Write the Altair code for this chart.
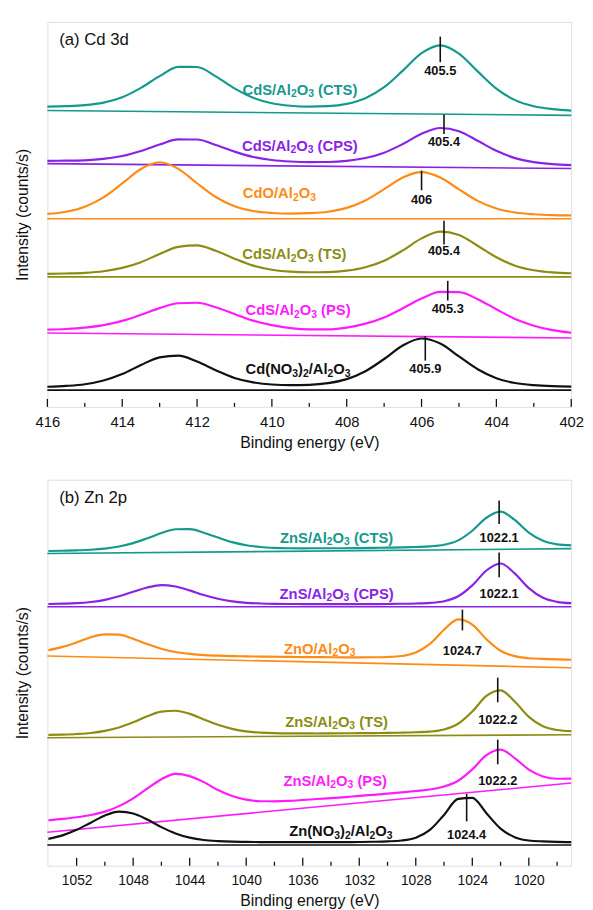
import altair as alt
import pandas as pd

FONT = "Liberation Sans, Arial, Helvetica, DejaVu Sans, sans-serif"

SERIES = ["CTS", "CPS", "OX", "TS", "PS", "NO3"]
COLORS = ["#14998d", "#8a22e6", "#ff8a14", "#8c8c12", "#ff1aff", "#111111"]

# ---------------- panel (a) Cd 3d ----------------
E_A = [416.0, 415.5, 415.0, 414.5, 414.0, 413.5, 413.0, 412.5, 412.0, 411.5,
       411.0, 410.5, 410.0, 409.5, 409.0, 408.5, 408.0, 407.5, 407.0, 406.5,
       406.0, 405.5, 405.0, 404.5, 404.0, 403.5, 403.0, 402.5, 402.0]
A_CTS = [305.0, 305.4, 306.4, 309.0, 314.5, 324.0, 335.9, 345.3, 345.2, 335.7, 323.5, 313.9, 308.3, 305.8, 304.9,
         305.4, 307.7, 313.5, 324.6, 341.5, 359.2, 367.2, 358.8, 340.7, 323.2, 311.5, 305.3, 302.4, 300.9]
A_CPS = [249.9, 250.0, 250.4, 251.8, 254.8, 259.9, 266.4, 271.6, 271.5, 266.0, 259.2, 253.8, 250.7, 249.2, 248.6,
         248.7, 249.8, 252.7, 258.1, 266.9, 277.3, 283.2, 280.0, 270.2, 260.0, 252.6, 248.6, 246.5, 245.5]
A_OX = [196.0, 198.2, 203.3, 212.8, 226.9, 241.6, 248.4, 241.7, 227.1, 213.1, 203.7, 198.9, 196.9, 196.2, 196.7,
        198.2, 202.1, 209.6, 221.1, 233.0, 238.4, 232.9, 220.9, 209.2, 201.5, 197.4, 195.6, 194.7, 194.4]
A_TS = [135.0, 135.4, 136.1, 137.7, 141.1, 146.9, 155.3, 162.5, 164.0, 158.5, 150.5, 143.4, 139.3, 137.3, 136.7,
        136.9, 138.3, 141.8, 148.4, 158.9, 171.1, 178.0, 174.6, 163.6, 151.9, 143.4, 138.8, 136.6, 135.7]
A_PS = [78.5, 79.1, 80.4, 83.0, 87.3, 93.5, 100.3, 105.2, 105.7, 101.1, 94.3, 87.6, 83.0, 79.9, 78.7,
        78.7, 80.5, 84.5, 90.8, 100.2, 110.0, 116.8, 116.5, 109.4, 99.1, 89.2, 82.4, 77.9, 75.3]
A_NO3 = [20.4, 21.3, 23.0, 26.8, 33.3, 42.5, 50.3, 52.1, 46.0, 37.2, 29.4, 24.9, 22.7, 22.1, 22.4,
         24.1, 28.2, 36.2, 48.6, 62.3, 69.4, 64.3, 51.2, 38.2, 29.1, 24.2, 22.0, 21.0, 20.6]
BASE_A_E = [416.0, 402.0]
BASE_A = {"CTS": [301, 296], "CPS": [247, 242], "OX": [191, 191],
          "TS": [132, 132], "PS": [75, 70], "NO3": [17, 17]}
# "_x" marks a subscript character
LBL_A_TEXT = ["CdS/Al_2O_3 (CTS)", "CdS/Al_2O_3 (CPS)", "CdO/Al_2O_3",
              "CdS/Al_2O_3 (TS)", "CdS/Al_2O_3 (PS)", "Cd(NO_3)_2/Al_2O_3"]
LBL_A_E = [409.25, 409.25, 409.8, 409.4, 409.3, 409.3]
LBL_A_I = [322, 265, 217, 155, 98, 38]
MK_A_E = [405.5, 405.4, 406.0, 405.4, 405.3, 405.9]
MK_A_TOP = [376, 297, 240, 189, 128, 72]
MK_A_BOT = [350, 277, 220, 165, 108, 47]
VAL_A_TEXT = ["405.5", "405.4", "406", "405.4", "405.3", "405.9"]
VAL_A_I = [341, 269, 210, 158, 99, 38]
MAJOR_A = [416, 414, 412, 410, 408, 406, 404, 402]
MINOR_A = [415, 413, 411, 409, 407, 405, 403]

# ---------------- panel (b) Zn 2p ----------------
E_B = [1054, 1053, 1052, 1051, 1050, 1049, 1048, 1047, 1046, 1045, 1044, 1043, 1042,
       1041, 1040, 1039, 1038, 1037, 1036, 1035, 1034, 1033, 1032, 1031, 1030, 1029,
       1028, 1027, 1026, 1025, 1024, 1023, 1022, 1021, 1020, 1019, 1018, 1017]
B_CTS = [319.6, 319.9, 320.3, 320.9, 322.1, 324.2, 327.6, 332.5, 337.8, 341.7, 341.8, 338.2, 333.3,
         328.6, 325.5, 323.7, 322.8, 322.4, 322.3, 322.4, 322.4, 322.4, 322.6, 322.8, 323.0, 323.3,
         323.7, 324.3, 325.9, 330.4, 340.2, 353.4, 359.6, 351.2, 338.3, 329.9, 326.4, 325.4]
B_CPS = [265.8, 266.1, 266.6, 267.8, 270.0, 273.6, 278.2, 282.6, 285.0, 283.5, 279.6, 274.9, 271.1,
         268.4, 267.0, 266.3, 265.9, 265.8, 265.7, 265.6, 265.6, 265.6, 265.6, 265.7, 265.8, 266.0,
         266.3, 266.9, 268.6, 273.6, 284.7, 299.8, 306.9, 296.9, 281.9, 272.1, 268.0, 266.6]
B_OX = [218.8, 222.2, 226.8, 232.0, 235.0, 234.6, 230.4, 225.1, 220.4, 217.0, 215.1, 213.8, 213.3,
        212.9, 212.6, 212.4, 212.2, 212.1, 211.9, 211.8, 211.7, 211.6, 211.6, 211.7, 212.0, 213.0,
        216.6, 225.3, 239.6, 250.1, 244.9, 230.0, 218.3, 212.8, 210.7, 210.0, 209.5, 209.2]
B_TS = [132.8, 133.2, 133.8, 134.8, 136.9, 140.4, 145.6, 151.7, 156.5, 157.4, 154.2, 148.5, 143.1,
        139.0, 136.4, 135.2, 134.6, 134.4, 134.4, 134.3, 134.4, 134.5, 134.6, 134.7, 134.9, 135.1,
        135.5, 136.2, 138.4, 144.2, 156.6, 172.5, 178.0, 166.7, 151.2, 141.6, 137.8, 136.6]
B_PS = [46.1, 47.5, 49.2, 51.5, 54.9, 60.5, 68.4, 78.3, 87.8, 93.2, 91.0, 84.9, 76.8,
        70.8, 67.1, 65.5, 65.4, 65.8, 66.7, 67.7, 68.6, 69.7, 70.9, 72.0, 73.2, 74.5,
        75.9, 77.4, 80.4, 86.3, 97.8, 112.3, 117.9, 109.3, 97.5, 90.6, 88.3, 88.5]
B_NO3 = [27.3, 30.8, 36.4, 43.7, 51.0, 54.9, 53.0, 46.9, 39.2, 32.8, 28.5, 26.1, 25.0,
         24.4, 24.2, 24.0, 23.9, 23.9, 23.9, 23.9, 23.9, 24.0, 24.1, 24.3, 24.7, 25.6,
         28.5, 36.4, 51.6, 67.8, 68.9, 53.3, 37.7, 29.0, 25.6, 24.7, 24.2, 24.0]
BASE_B_E = [1054.07, 1017.0]
BASE_B = {"CTS": [317, 322], "CPS": [263, 263], "OX": [213, 201],
          "TS": [130, 133], "PS": [34, 84], "NO3": [21, 21]}
LBL_B_TEXT = ["ZnS/Al_2O_3 (CTS)", "ZnS/Al_2O_3 (CPS)", "ZnO/Al_2O_3",
              "ZnS/Al_2O_3 (TS)", "ZnS/Al_2O_3 (PS)", "Zn(NO_3)_2/Al_2O_3"]
LBL_B_E = [1033.6, 1033.6, 1034.8, 1033.6, 1033.7, 1033.3]
LBL_B_I = [333, 276, 220, 146, 86, 35]
MK_B_E = [1022.1, 1022.1, 1024.7, 1022.2, 1022.2, 1024.4]
MK_B_TOP = [371, 318, 260, 191, 128, 73]
MK_B_BOT = [347, 293, 239, 166, 103, 45]
VAL_B_TEXT = ["1022.1", "1022.1", "1024.7", "1022.2", "1022.2", "1024.4"]
VAL_B_I = [333, 276, 218, 148, 86, 31]
MAJOR_B = [1052, 1048, 1044, 1040, 1036, 1032, 1028, 1024, 1020]
MINOR_B = [1050, 1046, 1042, 1038, 1034, 1030, 1026, 1022, 1018]

W = 532
FS_MAIN = 15.0
FS_SUB = 10.5
SUB_DROP = 4.5

# Arial/Liberation Sans Bold advance widths (1/1000 em)
ADV = {" ": 278, "(": 333, ")": 333, "/": 278, "A": 722, "C": 722, "O": 778,
       "S": 667, "T": 611, "P": 667, "N": 722, "Z": 611, "d": 611, "l": 278, "n": 611}


def adv(ch):
    return ADV.get(ch, 556)


def split_markup(m):
    out, buf, i = [], "", 0
    while i < len(m):
        if m[i] == "_":
            if buf:
                out.append((buf, False))
                buf = ""
            out.append((m[i + 1], True))
            i += 2
        else:
            buf += m[i]
            i += 1
    if buf:
        out.append((buf, False))
    return out


def label_rows(texts, es, is_, dom):
    ppu = W / (dom[1] - dom[0])
    rows = []
    for k, (m, e, iv) in enumerate(zip(texts, es, is_)):
        segs = split_markup(m)
        widths = [sum(adv(c) for c in t) * (FS_SUB if sub else FS_MAIN) / 1000 for t, sub in segs]
        start = -sum(widths) / 2
        for (t, sub), w in zip(segs, widths):
            fs = FS_SUB if sub else FS_MAIN
            stripped = t.lstrip(" ")
            lead = (len(t) - len(stripped)) * adv(" ") * fs / 1000
            rows.append({"E": e - (start + lead) / ppu, "I": iv - (SUB_DROP if sub else 0),
                         "t": stripped, "sub": sub, "s": SERIES[k]})
            start += w
    return pd.DataFrame(rows)


def panel(E, curves, base_e, bases, lbl_text, lbl_e, lbl_i, mk_e, mk_top, mk_bot,
          val_text, val_i, major, minor, dom, h, title, tick_fs):
    rows = []
    for s, ys in zip(SERIES, curves):
        for e, v in zip(E, ys):
            rows.append({"E": e, "I": v, "s": s})
    df_curve = pd.DataFrame(rows)
    brows = []
    for s in SERIES:
        for e, v in zip(base_e, bases[s]):
            brows.append({"E": e, "I": v, "s": s})
    df_base = pd.DataFrame(brows)
    df_lbl = label_rows(lbl_text, lbl_e, lbl_i, dom)
    df_mk = pd.DataFrame({"E": mk_e, "I": mk_top, "I2": mk_bot})
    df_val = pd.DataFrame({"E": mk_e, "I": val_i, "t": val_text})
    df_major = pd.DataFrame({"E": major})
    df_minor = pd.DataFrame({"E": minor})

    xs = alt.Scale(domain=dom, reverse=True, nice=False, zero=False)
    ys = alt.Scale(domain=[0, h], nice=False, zero=False)
    xaxis = alt.Axis(values=major, format="d", ticks=False, domain=False, grid=False,
                     labelFontSize=tick_fs, labelFont=FONT, labelColor="#111",
                     labelPadding=8, labelFlush=False, labelOverlap=False,
                     title="Binding energy (eV)", titleFont=FONT, titleFontSize=16,
                     titleFontWeight="normal", titleColor="#111", titlePadding=5)
    yaxis = alt.Axis(labels=False, ticks=False, domain=False, grid=False,
                     title="Intensity (counts/s)", titleFont=FONT, titleFontSize=16,
                     titleFontWeight="normal", titleColor="#111", titlePadding=17)
    X = alt.X("E:Q", scale=xs, axis=xaxis)
    Y = alt.Y("I:Q", scale=ys, axis=yaxis)
    col = alt.Color("s:N", scale=alt.Scale(domain=SERIES, range=COLORS), legend=None)

    base = alt.Chart(df_base).mark_line(strokeWidth=1.6).encode(x=X, y=Y, color=col, detail="s:N")
    curve = alt.Chart(df_curve).mark_line(strokeWidth=2.2, interpolate="monotone").encode(
        x=X, y=Y, color=col, detail="s:N")
    lbl_main = alt.Chart(df_lbl[~df_lbl["sub"]]).mark_text(
        font=FONT, fontSize=FS_MAIN, fontWeight="bold", align="left", baseline="middle").encode(
        x=X, y=Y, text="t:N", color=col)
    lbl_sub = alt.Chart(df_lbl[df_lbl["sub"]]).mark_text(
        font=FONT, fontSize=FS_SUB, fontWeight="bold", align="left", baseline="middle").encode(
        x=X, y=Y, text="t:N", color=col)
    mk = alt.Chart(df_mk).mark_rule(color="#111", strokeWidth=1.6).encode(
        x=X, y=Y, y2=alt.Y2("I2:Q"))
    val = alt.Chart(df_val).mark_text(font=FONT, fontSize=13, fontWeight="bold", color="#111",
                                      align="center", baseline="middle").encode(
        x=X, y=Y, text="t:N")
    tmaj = alt.Chart(df_major).mark_rule(color="#111", strokeWidth=1.3).encode(
        x=X, y=alt.value(h), y2=alt.value(h - 8))
    tmin = alt.Chart(df_minor).mark_rule(color="#111", strokeWidth=1.3).encode(
        x=X, y=alt.value(h), y2=alt.value(h - 4))
    ttl = alt.Chart(pd.DataFrame({"t": [title]})).mark_text(
        font=FONT, fontSize=17, align="left", baseline="middle", color="#111").encode(
        x=alt.value(12), y=alt.value(19), text="t:N")
    return alt.layer(base, curve, mk, val, lbl_main, lbl_sub, tmaj, tmin, ttl).properties(
        width=W, height=h)


pa = panel(E_A, [A_CTS, A_CPS, A_OX, A_TS, A_PS, A_NO3], BASE_A_E, BASE_A,
           LBL_A_TEXT, LBL_A_E, LBL_A_I, MK_A_E, MK_A_TOP, MK_A_BOT, VAL_A_TEXT, VAL_A_I,
           MAJOR_A, MINOR_A, [402, 416], 391, "(a) Cd 3d", 15)
pb = panel(E_B, [B_CTS, B_CPS, B_OX, B_TS, B_PS, B_NO3], BASE_B_E, BASE_B,
           LBL_B_TEXT, LBL_B_E, LBL_B_I, MK_B_E, MK_B_TOP, MK_B_BOT, VAL_B_TEXT, VAL_B_I,
           MAJOR_B, MINOR_B, [1017.0, 1054.07], 392, "(b) Zn 2p", 14)

chart = alt.vconcat(pa, pb, spacing=28).properties(
    padding={"left": 6, "top": 6, "right": 0, "bottom": 0}
).configure_view(stroke="#333", strokeWidth=1.5).configure(background="white")

chart.save("out.html", embed_options={"renderer": "svg", "actions": False})
